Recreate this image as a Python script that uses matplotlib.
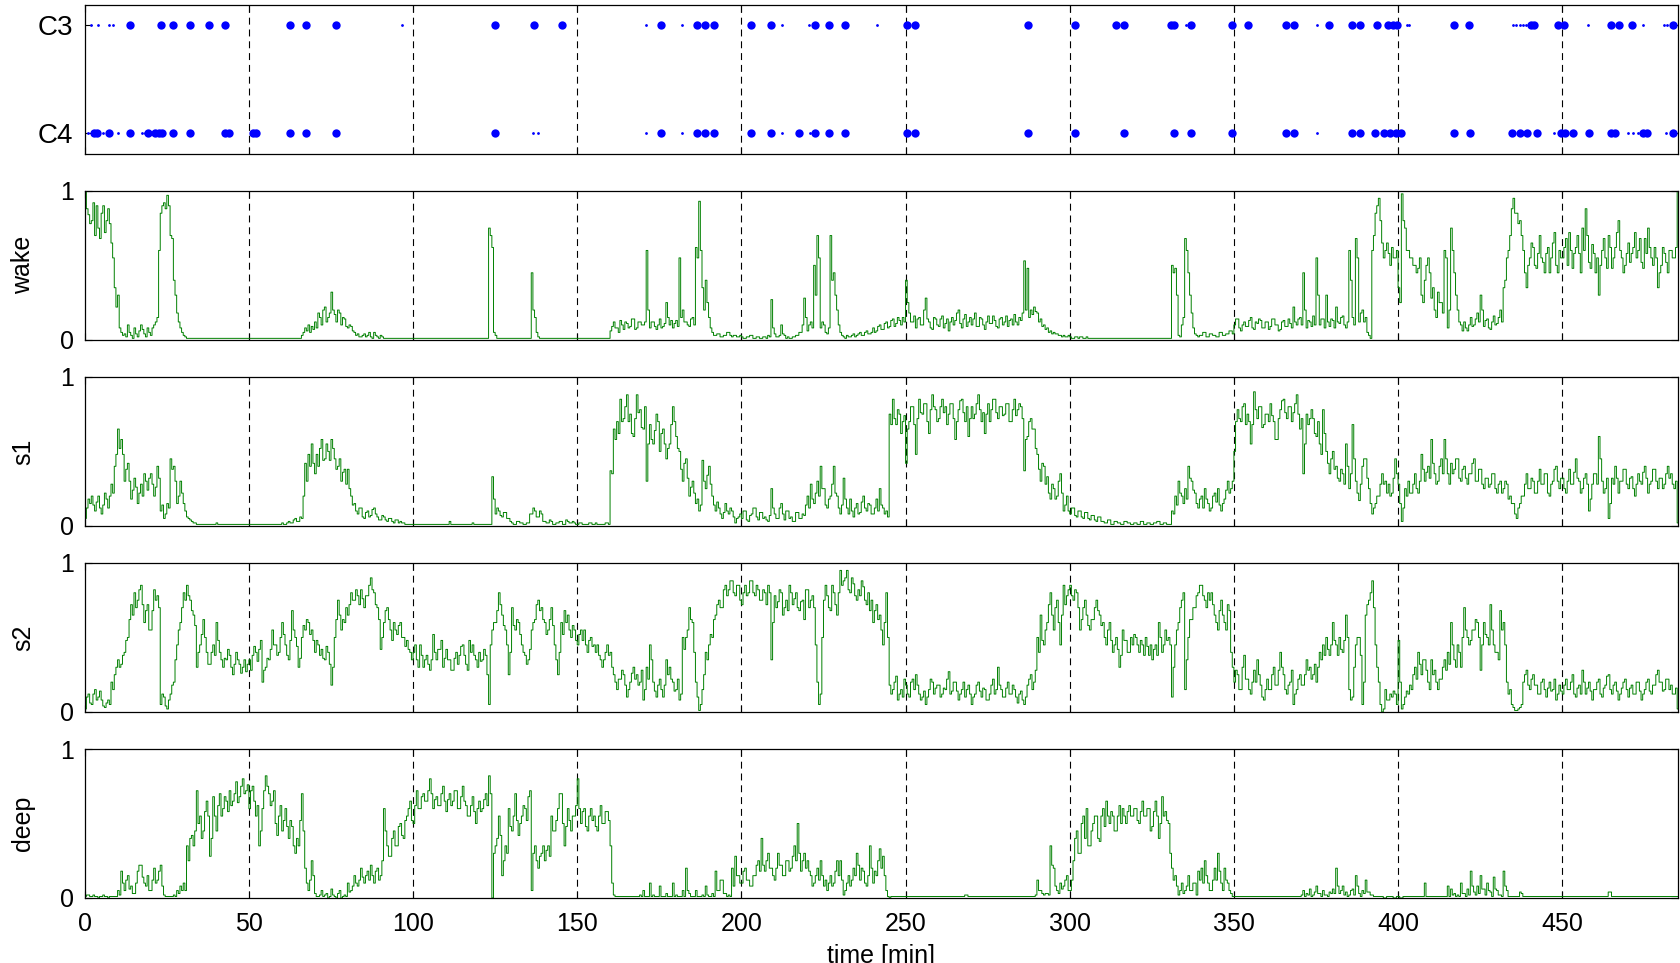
import numpy as np
import matplotlib
matplotlib.use('Agg')
import matplotlib.pyplot as plt

plt.rcParams['font.family'] = ['Liberation Sans', 'DejaVu Sans']
plt.rcParams['lines.scale_dashes'] = False

# electrode detections (minutes): big dots and single-sample marks
c3_events = [13.7, 23.1, 26.8, 32.2, 37.7, 42.6, 62.5, 67.3, 76.5, 125, 136.9, 145.3,
             175.5, 186.4, 188.8, 191.6, 203, 209, 222.3, 226.8, 231.7, 250.5, 253,
             287.2, 301.7, 314.1, 316.6, 330.9, 331.8, 336.8, 349.3, 354.3, 365.9,
             368.2, 378.9, 386, 388.5, 393.5, 396.8, 398.4, 399.6, 416.9, 421.6,
             440.6, 441.4, 448.8, 450.5, 465, 467.4, 471.2, 483.6]
c3_marks = [2, 4, 7.5, 8.5, 96.7, 171, 181.8, 212.4, 220.5, 241.4, 335.5, 375.3,
            402.6, 403.2, 435, 436, 437, 438, 439, 457.9, 474.5, 481, 482]
c4_events = [2.8, 3.6, 7.4, 13.7, 19.3, 21.5, 22.6, 23.6, 26.8, 32.2, 42.6, 43.8,
             51.2, 52.1, 62.5, 67.3, 76.5, 125, 175.5, 186.4, 188.8, 191.6, 203, 209,
             217.4, 222.3, 226.8, 231.7, 250.5, 253, 287.2, 301.7, 316.6, 331.8,
             336.8, 349.3, 365.9, 368.2, 386, 388.5, 393, 395.6, 397.6, 399.5, 400.9,
             417, 421.9, 434.8, 437, 439.3, 442.2, 449.7, 450.9, 453.4, 458.3, 464.9,
             466.2, 474.5, 475.7, 483.6]
c4_marks = [1, 5.5, 10, 17.5, 18.5, 136.4, 138, 171, 181.8, 212.4, 221, 375.3,
            447.5, 470, 471.5, 473, 481.5]

# stage probabilities (percent), 30 s epochs, one row per 10 minutes
wake = [
    [100, 88, 84, 78, 80, 92, 70, 90, 75, 68, 85, 90, 72, 80, 88, 78, 65, 55, 35, 22],
    [30, 8, 5, 3, 4, 2, 10, 5, 3, 1, 8, 4, 2, 6, 10, 7, 4, 2, 8, 5],
    [3, 8, 10, 12, 15, 60, 85, 90, 92, 88, 97, 90, 70, 68, 40, 30, 18, 12, 8, 5],
    [3, 2] + [1] * 18,
    [1] * 20,
    [1] * 20,
    [1] * 12 + [3, 5, 8, 6, 10, 5, 9, 7],
    [12, 8, 18, 15, 10, 20, 22, 12, 15, 18, 32, 20, 17, 12, 20, 18, 10, 15, 14, 9],
    [8, 10, 9, 6, 5, 3, 4, 2, 2, 3, 4, 2, 3, 5, 2, 1, 5, 3, 2, 1],
    [3, 2] + [1] * 18,
    [1] * 20,
    [1] * 20,
    [1] * 6 + [75, 70, 62, 5, 3] + [1] * 9,
    [1] * 12 + [45, 20, 15, 5, 2] + [1] * 3,
    [1] * 20,
    [1] * 20,
    [6, 9, 12, 8, 8, 5, 13, 10, 7, 12, 11, 8, 9, 14, 14, 7, 8, 12, 12, 10],
    [10, 12, 60, 20, 8, 12, 12, 9, 7, 10, 14, 8, 9, 11, 25, 15, 10, 13, 8, 11],
    [13, 9, 55, 15, 20, 12, 12, 10, 9, 14, 15, 10, 62, 55, 93, 60, 35, 20, 40, 25],
    [15, 8, 5, 3, 3, 4, 4, 2, 2, 3, 3, 5, 5, 3, 2, 3, 3, 2, 2, 3],
    [2, 1, 1, 2, 2, 3, 3, 1, 1, 2, 2, 1, 1, 2, 2, 1, 3, 2, 27, 8],
    [4, 2, 2, 3, 10, 4, 3, 1, 2, 1, 1, 2, 2, 3, 3, 5, 5, 10, 28, 15],
    [6, 10, 12, 8, 50, 30, 70, 55, 8, 12, 10, 5, 4, 8, 70, 40, 45, 30, 20, 10],
    [5, 3, 2, 1, 3, 2, 2, 3, 4, 2, 3, 4, 5, 3, 3, 5, 6, 4, 4, 5],
    [8, 5, 6, 9, 10, 7, 7, 11, 12, 8, 9, 13, 14, 9, 11, 15, 13, 10, 15, 12],
    [40, 25, 18, 12, 12, 16, 8, 14, 15, 10, 10, 20, 28, 14, 12, 8, 7, 15, 14, 10],
    [9, 14, 16, 8, 11, 14, 6, 12, 15, 10, 13, 18, 20, 11, 8, 14, 17, 9, 12, 15],
    [10, 14, 18, 9, 9, 15, 14, 10, 7, 12, 16, 11, 11, 16, 13, 9, 8, 14, 15, 10],
    [12, 16, 9, 13, 14, 10, 17, 12, 10, 15, 13, 18, 53, 20, 48, 15, 20, 17, 22, 19],
    [18, 12, 14, 9, 10, 7, 8, 5, 6, 4, 5, 4, 4, 3, 3, 2, 3, 2, 2, 3],
    [2, 1, 1, 2, 2, 1, 2, 2, 1, 1, 2] + [1] * 9,
    [1] * 20,
    [1] * 20,
    [1, 1, 50, 45, 48, 30, 3, 2, 10, 15, 68, 60, 45, 30, 18, 8, 4, 3, 2, 3],
    [3, 5, 5, 2, 2, 4, 4, 3, 3, 2, 2, 5, 5, 3, 3, 4, 4, 6, 6, 4],
    [10, 14, 14, 8, 6, 10, 12, 9, 9, 13, 15, 8, 7, 12, 11, 14, 13, 8, 8, 12],
    [12, 7, 9, 14, 14, 10, 10, 6, 7, 12, 13, 9, 9, 14, 11, 8, 22, 12, 10, 14],
    [15, 10, 45, 20, 8, 13, 12, 9, 16, 10, 55, 30, 10, 14, 14, 8, 30, 12, 9, 14],
    [13, 8, 22, 12, 11, 15, 16, 10, 8, 12, 60, 40, 15, 10, 68, 55, 12, 18, 20, 12],
    [15, 5, 3, 1, 60, 70, 85, 90, 95, 80, 65, 55, 60, 65, 58, 50, 62, 55, 55, 60],
    [35, 25, 98, 80, 75, 60, 60, 55, 55, 50, 50, 45, 48, 55, 30, 25, 40, 50, 55, 45],
    [28, 35, 20, 15, 32, 25, 25, 18, 60, 55, 8, 20, 75, 60, 45, 30, 20, 12, 10, 6],
    [12, 8, 6, 10, 15, 9, 10, 14, 18, 12, 30, 20, 9, 13, 14, 8, 7, 12, 16, 10],
    [11, 15, 20, 12, 35, 40, 55, 60, 70, 88, 95, 85, 85, 78, 80, 70, 60, 45, 35, 50],
    [55, 65, 62, 50, 48, 58, 70, 55, 52, 45, 58, 62, 45, 55, 65, 72, 50, 45, 60, 55],
    [55, 62, 68, 50, 72, 60, 48, 58, 62, 70, 58, 45, 75, 60, 88, 70, 52, 48, 64, 58],
    [45, 55, 30, 50, 60, 68, 55, 48, 70, 62, 48, 55, 62, 72, 80, 60, 55, 45, 50, 58],
    [65, 52, 58, 62, 72, 55, 60, 68, 52, 48, 68, 58, 75, 62, 55, 50, 62, 55, 35, 45],
    [50, 62, 58, 52, 45, 60, 60, 55, 55, 62, 100, 100],
]
s1 = [
    [5, 12, 18, 15, 20, 14, 10, 16, 20, 12, 8, 14, 22, 18, 12, 20, 28, 22, 40, 48],
    [65, 52, 58, 48, 30, 38, 42, 30, 18, 24, 32, 26, 15, 22, 28, 20, 35, 30, 24, 32],
    [35, 28, 20, 26, 40, 32, 10, 14, 5, 8, 15, 12, 45, 38, 40, 30, 15, 20, 30, 22],
    [15, 10, 6, 5, 4, 3, 2, 2] + [1] * 12,
    [2] + [1] * 19,
    [1] * 20,
    [2, 1, 1, 2, 3, 2, 2, 4, 5, 3, 3, 6, 5, 20, 42, 30, 48, 40, 55, 42],
    [35, 48, 40, 52, 58, 44, 45, 55, 50, 44, 58, 52, 45, 38, 40, 45, 30, 36, 38, 28],
    [38, 25, 20, 14, 15, 10, 8, 12, 12, 6, 5, 9, 10, 6, 7, 11, 12, 8, 6, 4],
    [4, 7, 6, 4, 3, 5, 5, 3, 2, 4, 4, 2, 3, 2, 2, 1, 1, 1, 1, 1],
    [1] * 20,
    [1, 1, 3] + [1] * 13 + [2, 1, 1, 1],
    [1] * 8 + [33, 18, 8, 12, 10, 7, 6, 9, 9, 5, 5, 3],
    [2, 1, 1, 3, 3, 2, 2, 1, 1, 2, 2, 8, 8, 12, 10, 6, 6, 10, 8, 3],
    [3, 2, 2, 4, 3, 1, 1, 2, 2, 3, 3, 1, 1, 4, 3, 2, 2, 3, 2, 1],
    [1, 2, 2, 1, 1, 1, 1, 2, 2, 1, 1, 2, 1, 1, 1, 1, 1, 2, 2, 1],
    [37, 35, 65, 58, 70, 62, 85, 70, 72, 80, 88, 70, 75, 62, 60, 72, 88, 76, 78, 66],
    [65, 80, 30, 55, 68, 58, 55, 64, 75, 70, 50, 62, 65, 55, 45, 52, 55, 68, 80, 70],
    [60, 52, 50, 38, 30, 42, 45, 32, 20, 26, 30, 22, 15, 18, 10, 14, 44, 30, 25, 34],
    [40, 28, 20, 14, 10, 16, 12, 8, 5, 9, 15, 10, 8, 12, 10, 6, 2, 5, 6, 8],
    [5, 10, 10, 4, 3, 7, 8, 12, 12, 6, 4, 9, 9, 5, 6, 4, 3, 7, 25, 12],
    [8, 5, 5, 12, 15, 8, 4, 10, 10, 5, 6, 3, 3, 9, 9, 5, 5, 8, 7, 14],
    [20, 12, 28, 18, 15, 22, 30, 20, 40, 25, 25, 14, 12, 18, 20, 28, 40, 22, 20, 12],
    [8, 14, 32, 18, 12, 8, 18, 10, 6, 12, 15, 8, 9, 16, 20, 12, 10, 15, 14, 8],
    [8, 12, 18, 10, 25, 14, 12, 8, 10, 6, 75, 68, 85, 72, 68, 78, 75, 62, 70, 74],
    [42, 65, 70, 80, 80, 68, 48, 72, 85, 76, 75, 82, 82, 70, 62, 78, 88, 80, 78, 70],
    [72, 80, 85, 76, 80, 68, 75, 82, 82, 72, 58, 70, 78, 84, 85, 76, 70, 80, 60, 72],
    [80, 72, 75, 82, 88, 78, 70, 76, 62, 75, 82, 70, 78, 85, 85, 76, 72, 80, 80, 74],
    [75, 82, 82, 70, 70, 78, 85, 74, 78, 82, 80, 72, 37, 58, 60, 70, 72, 65, 65, 52],
    [48, 38, 30, 42, 40, 28, 33, 22, 18, 28, 25, 18, 20, 30, 35, 22, 10, 14, 20, 10],
    [8, 12, 12, 7, 6, 10, 10, 6, 5, 9, 9, 5, 4, 7, 7, 4, 3, 6, 6, 3],
    [3, 2, 2, 4, 4, 1, 1, 3, 3, 2, 2, 1, 1, 3, 3, 2, 2, 1, 1, 2],
    [2, 1, 1, 3, 3, 1, 1, 2, 2, 1, 1, 2, 2, 3, 3, 1, 1, 2, 2, 1],
    [1, 1, 10, 8, 20, 14, 30, 22, 20, 15, 25, 18, 40, 32, 30, 24, 22, 15, 12, 18],
    [20, 12, 25, 18, 15, 10, 12, 20, 22, 16, 25, 14, 10, 15, 18, 24, 30, 22, 25, 30],
    [50, 70, 78, 72, 70, 80, 82, 68, 75, 70, 55, 68, 90, 78, 72, 80, 80, 66, 68, 75],
    [75, 70, 82, 74, 70, 58, 58, 72, 78, 84, 85, 76, 72, 80, 80, 70, 76, 82, 88, 75],
    [65, 72, 35, 55, 75, 68, 72, 78, 72, 62, 60, 70, 55, 48, 78, 62, 50, 42, 35, 45],
    [50, 38, 40, 32, 30, 38, 35, 28, 55, 40, 25, 35, 68, 45, 30, 22, 17, 28, 40, 45],
    [45, 32, 25, 15, 8, 12, 15, 20, 20, 28, 35, 28, 30, 22, 28, 20, 22, 32, 45, 35],
    [28, 15, 3, 12, 25, 20, 30, 22, 22, 28, 35, 25, 22, 30, 48, 38, 30, 36, 40, 32],
    [58, 42, 35, 28, 30, 40, 45, 35, 58, 45, 35, 28, 42, 35, 38, 45, 45, 32, 30, 38],
    [40, 32, 28, 35, 35, 42, 45, 30, 30, 38, 38, 28, 25, 32, 32, 26, 28, 35, 35, 25],
    [22, 28, 30, 22, 25, 30, 28, 18, 20, 15, 15, 8, 5, 12, 15, 20, 20, 28, 35, 25],
    [25, 32, 30, 22, 22, 30, 38, 28, 28, 35, 35, 22, 20, 28, 30, 38, 40, 30, 25, 32],
    [32, 25, 22, 30, 38, 28, 28, 36, 45, 32, 30, 22, 25, 32, 35, 28, 10, 18, 28, 35],
    [35, 28, 60, 45, 30, 22, 25, 32, 5, 15, 32, 28, 40, 32, 22, 30, 30, 38, 38, 28],
    [25, 32, 33, 25, 20, 28, 35, 30, 28, 36, 40, 32, 22, 28, 30, 38, 38, 30, 25, 32],
    [32, 25, 28, 35, 40, 32, 35, 28, 25, 30, 2, 2],
]
s2 = [
    [2, 10, 12, 6, 5, 12, 15, 8, 10, 14, 8, 4, 3, 6, 8, 5, 20, 15, 25, 30],
    [35, 30, 32, 38, 40, 48, 50, 62, 72, 65, 80, 70, 75, 82, 85, 72, 60, 68, 72, 55],
    [55, 68, 82, 75, 78, 70, 5, 12, 10, 4, 2, 8, 12, 18, 20, 35, 45, 55, 60, 70],
    [80, 75, 85, 78, 75, 68, 65, 58, 30, 40, 45, 52, 62, 50, 40, 32, 32, 40, 45, 38],
    [60, 48, 40, 35, 30, 36, 35, 42, 38, 30, 25, 32, 40, 35, 32, 26, 30, 35, 27, 32],
    [35, 28, 38, 44, 40, 34, 42, 48, 20, 28, 30, 36, 35, 42, 55, 45, 45, 38, 40, 50],
    [60, 52, 45, 38, 35, 48, 68, 55, 50, 44, 30, 36, 50, 58, 55, 62, 60, 52, 55, 48],
    [40, 48, 45, 38, 42, 36, 35, 44, 40, 32, 18, 30, 50, 62, 75, 65, 55, 62, 60, 70],
    [65, 72, 80, 75, 75, 82, 78, 72, 82, 76, 70, 78, 78, 85, 90, 82, 80, 72, 70, 62],
    [42, 50, 60, 68, 70, 62, 55, 48, 60, 55, 52, 58, 60, 50, 50, 44, 48, 42, 40, 35],
    [40, 45, 35, 30, 45, 38, 30, 35, 38, 32, 28, 35, 52, 40, 35, 42, 42, 48, 30, 36],
    [42, 35, 35, 28, 28, 36, 40, 32, 38, 44, 45, 38, 32, 28, 48, 40, 45, 38, 35, 30],
    [40, 34, 35, 42, 38, 25, 5, 45, 55, 60, 60, 68, 80, 72, 65, 58, 55, 45, 25, 40],
    [70, 58, 55, 62, 60, 52, 45, 40, 38, 32, 35, 42, 55, 60, 62, 72, 75, 68, 70, 62],
    [60, 52, 55, 62, 70, 58, 45, 35, 25, 40, 60, 52, 68, 60, 65, 55, 50, 58, 55, 48],
    [45, 52, 55, 48, 55, 45, 40, 48, 50, 44, 45, 40, 45, 38, 35, 30, 35, 40, 45, 38],
    [40, 30, 25, 20, 15, 22, 22, 28, 25, 18, 10, 15, 20, 26, 30, 22, 25, 18, 20, 28],
    [8, 15, 30, 22, 45, 35, 20, 14, 10, 18, 22, 15, 10, 18, 35, 25, 30, 22, 20, 14],
    [15, 22, 8, 12, 50, 42, 50, 55, 70, 62, 60, 40, 20, 10, 1, 5, 15, 25, 40, 35],
    [45, 52, 50, 62, 65, 72, 75, 70, 70, 82, 85, 78, 82, 88, 88, 80, 78, 85, 85, 75],
    [72, 80, 85, 78, 80, 88, 88, 80, 78, 85, 82, 75, 75, 82, 80, 72, 85, 80, 35, 60],
    [78, 70, 74, 82, 80, 65, 70, 75, 68, 85, 80, 72, 76, 80, 70, 68, 74, 75, 62, 82],
    [82, 70, 75, 78, 70, 45, 20, 5, 12, 50, 75, 85, 78, 70, 68, 85, 80, 72, 65, 80],
    [95, 85, 88, 90, 95, 82, 80, 90, 86, 78, 75, 82, 78, 88, 84, 75, 72, 80, 68, 75],
    [60, 68, 72, 62, 65, 55, 45, 60, 80, 50, 18, 12, 15, 20, 24, 8, 12, 15, 10, 22],
    [18, 12, 10, 20, 22, 15, 25, 18, 12, 8, 10, 14, 5, 10, 15, 22, 20, 12, 16, 18],
    [18, 10, 12, 16, 15, 22, 27, 12, 14, 20, 20, 14, 8, 12, 15, 20, 10, 15, 18, 12],
    [5, 10, 12, 18, 20, 14, 10, 16, 15, 8, 8, 12, 18, 22, 12, 15, 30, 18, 15, 10],
    [10, 16, 20, 12, 12, 18, 15, 10, 6, 12, 14, 8, 5, 10, 18, 22, 25, 15, 20, 28],
    [50, 40, 65, 48, 45, 55, 60, 72, 80, 65, 55, 70, 75, 60, 45, 65, 85, 72, 78, 82],
    [85, 78, 75, 82, 80, 70, 55, 62, 70, 75, 65, 58, 55, 62, 62, 70, 75, 68, 65, 58],
    [60, 50, 45, 55, 60, 48, 40, 45, 50, 42, 30, 38, 55, 48, 48, 40, 40, 50, 45, 52],
    [50, 45, 40, 48, 45, 38, 50, 44, 38, 45, 35, 42, 45, 38, 60, 50, 40, 45, 55, 48],
    [50, 45, 10, 30, 45, 55, 60, 70, 75, 80, 15, 35, 50, 62, 62, 70, 70, 78, 80, 85],
    [85, 78, 75, 70, 80, 75, 80, 72, 65, 60, 55, 68, 75, 65, 60, 55, 72, 68, 40, 30],
    [20, 28, 25, 15, 15, 30, 38, 22, 22, 15, 12, 20, 28, 20, 35, 25, 18, 10, 8, 15],
    [22, 15, 15, 25, 30, 18, 18, 28, 40, 30, 25, 15, 12, 18, 20, 28, 5, 12, 15, 22],
    [25, 18, 18, 25, 35, 28, 30, 22, 25, 32, 20, 30, 40, 35, 45, 38, 50, 42, 38, 45],
    [60, 48, 45, 38, 50, 42, 40, 48, 65, 50, 15, 8, 10, 30, 45, 50, 50, 38, 5, 20],
    [65, 72, 75, 80, 88, 70, 45, 30, 20, 5, 0, 2, 15, 8, 8, 12, 10, 14, 12, 5],
    [48, 20, 2, 5, 10, 14, 12, 18, 15, 25, 30, 22, 40, 32, 25, 35, 35, 28, 20, 15],
    [35, 25, 28, 20, 15, 22, 22, 30, 35, 28, 40, 32, 60, 45, 35, 30, 45, 40, 30, 50],
    [70, 55, 50, 45, 48, 55, 55, 62, 60, 50, 28, 45, 60, 52, 50, 45, 72, 55, 45, 40],
    [40, 35, 68, 55, 60, 45, 20, 12, 15, 5, 3, 1, 1, 2, 3, 5, 20, 25, 28, 18],
    [15, 22, 25, 18, 18, 12, 12, 20, 22, 15, 10, 16, 20, 14, 15, 22, 8, 12, 18, 14],
    [12, 18, 22, 15, 15, 20, 25, 12, 10, 16, 18, 12, 28, 20, 12, 16, 20, 14, 8, 15],
    [15, 20, 22, 12, 10, 16, 18, 24, 25, 15, 12, 18, 20, 14, 8, 12, 16, 20, 22, 15],
    [10, 16, 18, 12, 12, 20, 20, 14, 8, 12, 15, 20, 22, 14, 12, 18, 18, 25, 28, 20],
    [20, 14, 15, 22, 22, 15, 18, 12, 12, 16, 2, 2],
]
deep = [
    [1, 2, 2, 1, 1, 2, 1, 1, 0, 1, 1, 2, 1, 1, 0, 1, 1, 1, 1, 1],
    [5, 2, 18, 10, 5, 12, 15, 6, 8, 3, 3, 10, 18, 22, 22, 14, 10, 8, 15, 5],
    [5, 12, 20, 10, 12, 18, 22, 8, 2, 1, 1, 1, 1, 1, 2, 1, 5, 3, 8, 5],
    [10, 5, 35, 25, 40, 42, 35, 45, 72, 50, 55, 40, 45, 58, 65, 55, 28, 40, 68, 55],
    [45, 62, 70, 55, 60, 68, 65, 58, 72, 62, 65, 70, 78, 64, 68, 75, 80, 70, 72, 76],
    [60, 72, 75, 65, 55, 62, 35, 45, 60, 72, 82, 75, 70, 62, 65, 72, 50, 42, 55, 62],
    [45, 52, 60, 48, 40, 52, 48, 35, 30, 40, 35, 52, 70, 45, 20, 10, 5, 12, 25, 15],
    [3, 1, 1, 2, 5, 1, 2, 3, 0, 1, 6, 2, 1, 0, 3, 5, 0, 1, 2, 1],
    [10, 4, 5, 8, 15, 10, 8, 12, 20, 14, 10, 15, 18, 12, 22, 15, 10, 18, 20, 12],
    [15, 25, 60, 45, 35, 28, 28, 40, 45, 35, 35, 48, 50, 42, 40, 52, 55, 60, 65, 52],
    [50, 62, 72, 60, 60, 68, 70, 65, 65, 72, 80, 70, 60, 66, 68, 62, 62, 70, 75, 65],
    [58, 66, 70, 62, 65, 72, 72, 60, 60, 68, 75, 65, 62, 55, 55, 62, 68, 58, 50, 60],
    [65, 58, 60, 66, 70, 62, 82, 70, 0, 30, 35, 40, 55, 42, 15, 25, 35, 30, 60, 48],
    [45, 55, 70, 52, 42, 50, 55, 62, 60, 52, 68, 72, 5, 30, 35, 25, 20, 28, 30, 35],
    [25, 32, 35, 28, 55, 45, 45, 52, 60, 70, 70, 50, 35, 48, 60, 52, 45, 55, 55, 62],
    [80, 60, 50, 58, 60, 48, 45, 55, 60, 52, 55, 48, 45, 55, 62, 50, 50, 58, 58, 52],
    [35, 10, 2] + [1] * 15 + [2, 1],
    [5, 1, 1, 1, 10, 1, 2, 1, 1, 1, 8, 1, 1, 1, 3, 1, 1, 1, 10, 1],
    [2, 1, 1, 1, 5, 1, 20, 5, 3, 1, 1, 1, 5, 1, 1, 1, 2, 1, 8, 2],
    [1, 1, 3, 1, 18, 5, 5, 12, 12, 3, 3, 1, 2, 1, 20, 8, 28, 15, 15, 10],
    [10, 18, 20, 12, 12, 8, 8, 15, 15, 22, 25, 18, 40, 22, 18, 25, 30, 20, 20, 15],
    [12, 20, 30, 22, 22, 15, 15, 25, 25, 18, 20, 28, 35, 25, 50, 30, 18, 25, 30, 20],
    [25, 18, 15, 8, 10, 15, 20, 12, 25, 15, 8, 12, 5, 10, 15, 8, 10, 18, 25, 15],
    [25, 12, 2, 5, 10, 15, 8, 12, 20, 15, 30, 22, 12, 20, 18, 10, 8, 15, 35, 20],
    [10, 18, 15, 25, 33, 20, 28, 15, 5, 1, 0] + [1] * 9,
    [1] * 20,
    [1] * 16 + [2, 2, 1, 1],
    [1] * 20,
    [1] * 19 + [2],
    [12, 5, 5, 3, 2, 3, 3, 2, 35, 22, 20, 8, 5, 3, 10, 6, 8, 12, 15, 5],
    [5, 12, 25, 40, 45, 30, 30, 50, 55, 40, 60, 35, 35, 45, 50, 55, 55, 40, 38, 55],
    [60, 48, 65, 55, 50, 58, 55, 45, 45, 55, 62, 50, 60, 55, 50, 58, 62, 55, 55, 60],
    [60, 52, 50, 58, 65, 55, 55, 60, 60, 45, 48, 58, 65, 55, 40, 50, 68, 55, 58, 52],
    [50, 30, 20, 12, 15, 8, 2, 5, 10, 3, 5, 8, 15, 5, 5, 10, 10, 2, 18, 12],
    [20, 10, 25, 15, 10, 5, 5, 12, 20, 12, 30, 18, 10, 5, 20, 12, 10, 5, 3, 1],
    [1] * 20,
    [1] * 20,
    [1, 2, 5, 1, 3, 2, 6, 1, 2, 4, 8, 3, 3, 1, 5, 2, 2, 1, 4, 3],
    [6, 3, 20, 8, 3, 5, 8, 2, 4, 1, 2, 5, 6, 2, 15, 8, 3, 1, 5, 3],
    [12, 4, 4, 2, 2, 1, 1, 1, 1, 1, 1, 0, 0, 1, 1, 1, 1, 0, 0, 1],
    [1, 0, 0, 1, 1, 1, 1, 1, 1, 1, 1, 1, 1, 1, 1, 1, 10, 1, 1, 1],
    [1, 1, 1, 1, 1, 1, 1, 1, 1, 1, 8, 1, 6, 2, 3, 1, 2, 1, 10, 3],
    [3, 1, 6, 2, 18, 8, 4, 2, 8, 3, 15, 6, 6, 2, 10, 5, 4, 1, 14, 6],
    [5, 2, 2, 1, 18, 8, 5, 1, 1, 1, 1, 1, 1, 1, 4, 3, 1, 1, 1, 1],
    [1] * 20,
    [1] * 20,
    [1] * 8 + [4, 4] + [1] * 10,
    [1] * 20,
    [1] * 12,
]

stage_names = ['wake', 's1', 's2', 'deep']
stage_rows = [wake, s1, s2, deep]
grid_times = [50, 100, 150, 200, 250, 300, 350, 400, 450]
t_max = 485.3

FS = 18
GREEN = '#008000'
BLUE = '#0000ff'


def epoch_series(rows):
    # each row starts at a 10 minute boundary, one value per 30 s
    t, v = [], []
    for k, row in enumerate(rows):
        t.extend(10 * k + 0.5 * np.arange(len(row)))
        v.extend(row)
    return np.array(t), np.array(v) / 100.0


def style_axis(ax):
    ax.set_xlim(0, t_max)
    ax.set_xticks([0] + grid_times)
    for t in grid_times:
        ax.axvline(t, color='black', lw=0.8, ls=(0, (5, 3.5)), zorder=1)
    ax.tick_params(direction='in', length=5, width=0.8, top=True, right=True,
                   labelsize=FS)
    ax.tick_params(axis='x', pad=10)
    ax.tick_params(axis='y', pad=8)
    for sp in ax.spines.values():
        sp.set_linewidth(0.9)


fig = plt.figure(figsize=(16.81, 9.63), dpi=100)
left, width, height = 0.0504, 0.9479, 0.1547
bottoms = [0.8403, 0.6471, 0.4539, 0.2607, 0.0675]

# channel detections
ax0 = fig.add_axes([left, bottoms[0], width, height])
style_axis(ax0)
ax0.plot(c3_events, np.ones(len(c3_events)), 'o', color=BLUE, ms=6, mew=0)
ax0.plot(c4_events, np.zeros(len(c4_events)), 'o', color=BLUE, ms=6, mew=0)
ax0.plot(c3_marks, np.ones(len(c3_marks)), '.', color=BLUE, ms=2)
ax0.plot(c4_marks, np.zeros(len(c4_marks)), '.', color=BLUE, ms=2)
ax0.set_ylim(-0.19, 1.19)
ax0.set_yticks([0, 1])
ax0.set_yticklabels(['C4', 'C3'])
ax0.tick_params(axis='y', labelsize=20)
ax0.tick_params(axis='x', labelbottom=False)

# stage probabilities
for i, (name, rows) in enumerate(zip(stage_names, stage_rows)):
    ax = fig.add_axes([left, bottoms[i + 1], width, height])
    style_axis(ax)
    x, y = epoch_series(rows)
    ax.plot(x, y, color=GREEN, lw=0.7, drawstyle='steps-post', zorder=2)
    ax.set_ylim(0, 1)
    ax.set_yticks([0, 1])
    ax.set_yticklabels(['0', '1'])
    ax.set_ylabel(name, fontsize=FS)
    ax.yaxis.set_label_coords(-0.031, 0.5)
    if i < 3:
        ax.tick_params(axis='x', labelbottom=False)
    else:
        ax.set_xlabel('time [min]', fontsize=FS, labelpad=6)

plt.savefig('out.png', dpi=100)
plt.close()
